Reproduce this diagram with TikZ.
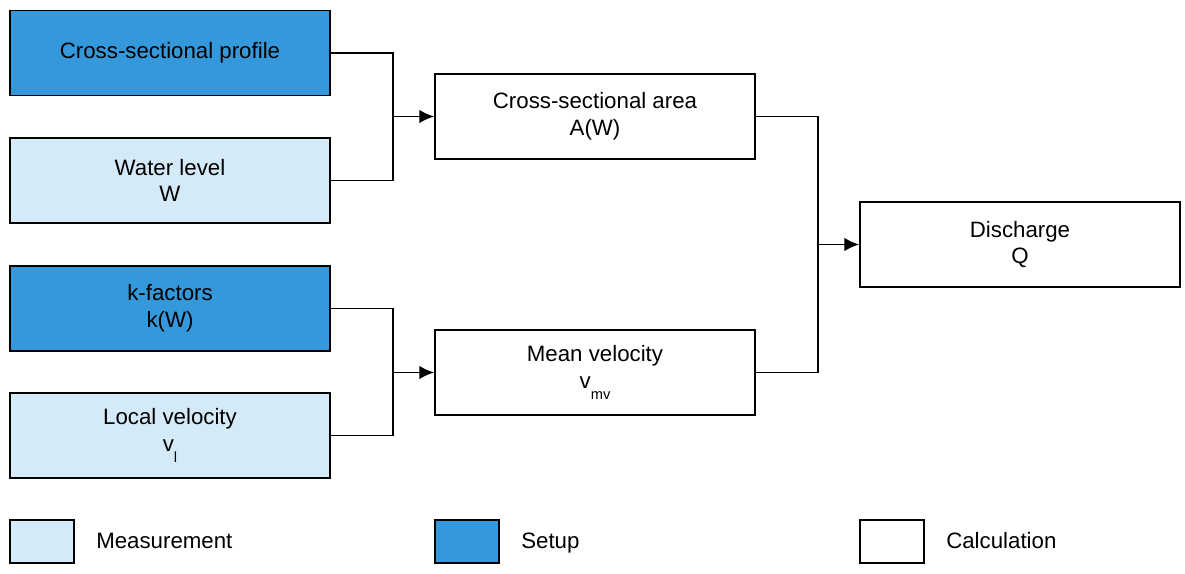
\documentclass[tikz,border=0pt]{standalone}
\usepackage{fontspec}
\setmainfont{Liberation Sans}
\usepackage{tikz}
\usetikzlibrary{arrows.meta,positioning}
\definecolor{setupblue}{HTML}{3498DB}
\definecolor{measblue}{HTML}{D4EAF8}
\tikzset{box/.style={rectangle,draw=black,line width=1.3pt,minimum width=240pt,minimum height=63.75pt,align=center,font=\fontsize{16.7}{20}\selectfont}}
\tikzset{key/.style={rectangle,draw=black,line width=1.3pt,minimum width=48pt,minimum height=32pt}}
\tikzset{keytext/.style={anchor=base west,inner sep=0pt,font=\fontsize{16.7}{20}\selectfont}}
\tikzset{link/.style={line width=1.3pt}}
\tikzset{into/.style={link,-{Latex[length=11pt,width=10pt]}}}
\newcommand{\Sub}[1]{\raisebox{-0.9ex}{\fontsize{11}{11}\selectfont #1}}
\begin{document}
\begin{tikzpicture}[x=0.75pt,y=-0.75pt]
\useasboundingbox (0,0) rectangle (1185,574);
% inputs
\node (prof) [box,fill=setupblue] at (170,53) {Cross-sectional profile};
\node (water) [box,fill=measblue] at (170,180.5) {Water level\\W};
\node (kfac) [box,fill=setupblue] at (170,308.5) {k-factors\\k(W)};
\node (local) [box,fill=measblue] at (170,435.5) {Local velocity\\v\Sub{l}};
% calculations
\node (area) [box] at (595,116.5) {Cross-sectional area\\A(W)};
\node (mean) [box] at (595,372.5) {Mean velocity\\v\Sub{mv}};
\node (disch) [box] at (1020,244.5) {Discharge\\Q};
%
\coordinate (j1) at (393,116.5);
\coordinate (j2) at (393,372.5);
\coordinate (j3) at (818,244.5);
%
\draw[link] (prof.east) -| (j1);
\draw[link] (water.east) -| (j1);
\draw[into] (j1) -- (area.west);
\draw[link] (kfac.east) -| (j2);
\draw[link] (local.east) -| (j2);
\draw[into] (j2) -- (mean.west);
\draw[link] (area.east) -| (j3);
\draw[link] (mean.east) -| (j3);
\draw[into] (j3) -- (disch.west);
% legend
\node (kmeas) [key,fill=measblue] at (42,541.5) {};
\node (kset) [key,fill=setupblue] at (467,541.5) {};
\node (kcalc) [key] at (892,541.5) {};
\node (tmeas) [keytext] at (96,548) {Measurement};
\node (tset) [keytext] at (521,548) {Setup};
\node (tcalc) [keytext] at (946,548) {Calculation};
\end{tikzpicture}
\end{document}
